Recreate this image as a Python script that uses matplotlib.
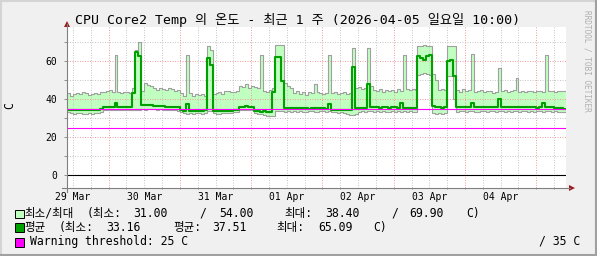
import numpy as np
import matplotlib
matplotlib.use('Agg')
import matplotlib.pyplot as plt
from matplotlib.patches import Rectangle, Polygon
from matplotlib.lines import Line2D

W, H = 597, 256

# ---------------- data (hourly, starting 2026-03-29 10:00) ----------------
max_vals = [
    43.5, 41.8, 42.6, 43.5, 43.0, 44.0, 43.5, 42.5, 42.6, 43.5, 42.6, 43.9,
    44.0, 44.4, 44.8, 44.0, 63.2, 43.9, 43.5, 44.0, 43.9, 43.5, 46.0, 66.0,
    69.9, 44.4, 48.7, 47.5, 47.0, 46.1, 45.0, 46.0, 45.5, 44.8, 46.0, 45.3,
    44.5, 45.0, 43.5, 42.0, 63.5, 43.5, 42.0, 43.0, 42.5, 43.0, 42.0, 67.9,
    66.0, 43.0, 43.5, 44.0, 42.8, 44.4, 44.4, 43.9, 44.0, 44.5, 47.0, 46.5,
    47.9, 46.1, 47.0, 46.5, 46.0, 63.5, 44.4, 44.0, 45.0, 46.0, 68.4, 68.4,
    68.4, 48.7, 47.0, 46.0, 43.5, 44.5, 43.0, 44.0, 42.5, 44.0, 43.5, 47.9,
    44.0, 43.5, 43.0, 43.5, 63.5, 43.5, 44.0, 43.0, 43.5, 44.0, 43.0, 43.5,
    67.0, 46.0, 46.5, 45.5, 46.0, 67.0, 47.0, 45.0, 44.5, 45.3, 44.0, 45.0,
    44.5, 45.0, 44.0, 45.3, 44.5, 63.5, 45.3, 45.0, 45.5, 45.0, 67.9, 67.9,
    68.8, 67.9, 67.9, 53.1, 50.0, 45.0, 45.5, 45.0, 67.9, 67.9, 67.9, 45.0,
    44.0, 45.3, 44.5, 45.0, 63.9, 44.0, 44.4, 45.0, 44.0, 44.5, 44.4, 43.5,
    44.0, 56.6, 44.4, 45.0, 44.0, 44.5, 45.0, 51.3, 44.0, 44.4, 44.0, 44.5,
    44.4, 44.0, 44.5, 44.4, 44.0, 63.2, 44.4, 44.4, 44.0, 44.4, 44.4, 44.4,
]
min_vals = [
    33.5, 33.0, 32.5, 33.0, 33.0, 32.5, 32.5, 33.0, 32.5, 33.0, 33.0, 33.5,
    34.5, 34.5, 34.3, 34.5, 34.3, 34.5, 34.3, 34.5, 34.3, 34.5, 34.3, 34.5,
    34.5, 34.8, 34.5, 34.8, 35.0, 34.8, 34.5, 34.8, 34.5, 34.5, 34.3, 34.5,
    34.3, 34.0, 33.5, 33.0, 32.5, 33.0, 32.5, 33.0, 32.8, 32.5, 33.0, 34.0,
    34.0, 33.0, 32.5, 32.5, 33.0, 32.8, 33.0, 33.0, 33.2, 33.5, 34.3, 34.3,
    34.3, 34.3, 34.3, 33.0, 32.5, 32.5, 32.0, 31.0, 31.3, 31.3, 34.0, 34.0,
    34.0, 33.5, 33.8, 33.5, 34.0, 33.5, 33.8, 33.5, 33.5, 34.0, 33.8, 33.5,
    33.5, 33.8, 34.0, 33.5, 33.8, 33.5, 33.5, 33.0, 33.5, 33.0, 32.5, 32.0,
    32.0, 32.2, 33.5, 33.8, 33.5, 34.0, 33.8, 33.5, 34.0, 33.5, 33.8, 33.5,
    33.5, 34.0, 33.5, 33.8, 33.5, 34.0, 33.5, 33.8, 33.5, 33.5, 53.0, 53.5,
    54.0, 53.5, 53.0, 33.0, 32.5, 33.0, 32.5, 33.0, 52.0, 52.5, 40.0, 33.5,
    33.8, 34.0, 33.5, 33.8, 34.0, 33.5, 33.5, 33.8, 34.0, 33.5, 33.8, 34.0,
    33.5, 33.8, 34.0, 33.5, 33.8, 33.5, 34.0, 33.8, 33.5, 34.0, 33.8, 33.5,
    34.0, 33.5, 33.8, 34.0, 33.5, 33.8, 34.0, 33.5, 33.8, 33.5, 33.5, 33.5,
]
avg_vals = [
    34.5, 34.3, 34.5, 34.5, 34.3, 34.3, 34.5, 34.5, 34.3, 34.5, 34.5, 35.0,
    35.7, 36.0, 36.0, 36.0, 38.3, 36.0, 36.0, 35.8, 36.0, 36.0, 43.5, 65.09,
    63.0, 37.0, 37.0, 36.8, 37.0, 36.5, 36.5, 36.3, 36.3, 36.0, 36.0, 36.0,
    35.8, 36.0, 34.5, 34.0, 37.4, 34.0, 34.0, 33.8, 34.0, 34.0, 34.5, 61.8,
    58.0, 34.0, 34.0, 33.8, 34.0, 34.0, 34.0, 34.0, 34.2, 34.5, 36.0, 36.0,
    36.3, 36.0, 36.0, 34.0, 34.0, 33.5, 34.0, 33.5, 33.16, 44.0, 62.0, 62.1,
    49.6, 35.5, 35.3, 35.3, 35.5, 35.3, 35.3, 35.5, 35.3, 35.0, 35.3, 35.3,
    35.5, 35.3, 35.3, 35.0, 37.8, 34.6, 34.5, 34.6, 34.3, 34.5, 34.5, 34.3,
    56.9, 35.3, 35.3, 35.5, 35.3, 48.2, 36.0, 35.7, 35.7, 35.5, 35.7, 35.7,
    35.5, 35.7, 35.7, 35.5, 38.3, 35.3, 35.3, 35.5, 35.3, 35.3, 62.7, 61.5,
    60.9, 62.5, 63.2, 36.5, 35.7, 35.7, 35.5, 35.7, 60.0, 60.5, 52.2, 35.7,
    35.7, 36.0, 35.7, 35.7, 38.3, 35.7, 36.0, 35.7, 35.7, 36.0, 35.7, 35.7,
    36.0, 40.0, 36.0, 36.0, 35.7, 36.0, 36.0, 35.7, 36.0, 35.7, 35.7, 36.0,
    35.7, 35.7, 35.5, 35.7, 38.3, 36.0, 35.7, 35.7, 35.5, 35.5, 35.3, 34.8,
]
warn_level = 25
crit_level = 35
zero_level = 0
day_labels = ['29 Mar', '30 Mar', '31 Mar', '01 Apr', '02 Apr', '03 Apr', '04 Apr']
label_hours = [2, 26, 50, 74, 98, 122, 146]          # noon of each day
midnight_hours = [14, 38, 62, 86, 110, 134, 158]
y_major = [0, 20, 40, 60]
y_minor = [10, 30, 50, 70]

title = 'CPU Core2 Temp 의 온도 - 최근 1 주 (2026-04-05 일요일 10:00)'

MONO = ['DejaVu Sans Mono', 'Noto Sans CJK KR']


def F(x, y):
    return (x / W, 1 - y / H)


fig = plt.figure(figsize=(W / 100, H / 100), dpi=100, facecolor='#f0f0f0')

# frame shading
fig.add_artist(Line2D([0, 1], [1 - 1 / H, 1 - 1 / H], transform=fig.transFigure, color='#d4d4d4', lw=1.5))
fig.add_artist(Line2D([1 / W, 1 / W], [0, 1], transform=fig.transFigure, color='#d4d4d4', lw=1.5))
fig.add_artist(Line2D([0, 1], [1 / H, 1 / H], transform=fig.transFigure, color='#a0a0a0', lw=1.5))
fig.add_artist(Line2D([1 - 1 / W, 1 - 1 / W], [0, 1], transform=fig.transFigure, color='#a0a0a0', lw=1.5))

x0, x1, y0, y1 = 67, 566, 27, 188
ax = fig.add_axes([x0 / W, 1 - y1 / H, (x1 - x0) / W, (y1 - y0) / H])
ax.set_facecolor('white')

n = len(max_vals)
hours = np.arange(n + 1)
mx = np.append(max_vals, max_vals[-1])
mn = np.append(min_vals, min_vals[-1])
av = np.append(avg_vals, avg_vals[-1])

ax.fill_between(hours, mn, mx, step='post', color='#c0ffc0', lw=0, zorder=1)

# grid (drawn above the area like rrdtool)
for v in y_minor:
    ax.axhline(v, color='#c8c8c8', lw=0.72, dashes=(1, 1.5), zorder=2)
for v in y_major:
    ax.axhline(v, color='#f0a0a0', lw=0.72, dashes=(1, 1.5), zorder=2)
for h in range(2, n + 1, 6):
    if h in midnight_hours:
        ax.axvline(h, color='#f0a0a0', lw=0.72, dashes=(1, 1.5), zorder=2)
    else:
        ax.axvline(h, color='#c8c8c8', lw=0.72, dashes=(1, 1.5), zorder=2)

ax.step(hours, mx, where='post', color='#a0a0a0', lw=0.8, zorder=3)
ax.step(hours, mn, where='post', color='#a0a0a0', lw=0.8, zorder=3)
ax.step(hours, av, where='post', color='#00a000', lw=1.5, zorder=4)

ax.axhline(zero_level, color='black', lw=0.8, zorder=5)
ax.axhline(warn_level, color='#ff00ff', lw=0.8, zorder=5)
ax.axhline(crit_level, color='#ff00ff', lw=0.8, zorder=5)

ax.set_xlim(0, n)
ax.set_ylim(-6.6, 78)
for s in ax.spines.values():
    s.set_visible(False)

ax.set_xticks(label_hours)
ax.set_xticklabels(day_labels, fontsize=7, family=MONO)
ax.set_xticks(list(range(2, n + 1, 6)), minor=True)
ax.tick_params(axis='x', which='major', length=0, pad=3)
ax.tick_params(axis='x', which='minor', length=2, width=0.6, color='#808080', direction='inout')
ax.set_yticks(y_major)
ax.set_yticklabels([str(v) for v in y_major], fontsize=7, family=MONO)
ax.set_yticks(y_minor, minor=True)
ax.tick_params(axis='y', which='both', length=2.5, width=0.6, color='#808080', pad=4.5)

# axis lines and arrows
fig.add_artist(Line2D([F(67, 0)[0]] * 2, [F(0, 192)[1], F(0, 24)[1]], transform=fig.transFigure, color='#808080', lw=0.8))
fig.add_artist(Line2D([F(62, 0)[0], F(570, 0)[0]], [F(0, 188)[1]] * 2, transform=fig.transFigure, color='#808080', lw=0.8))
arrow_col = '#9b1b1b'
fig.add_artist(Polygon([F(64, 27), F(70, 27), F(67, 21)], closed=True, transform=fig.transFigure, color=arrow_col, lw=0))
fig.add_artist(Polygon([F(569, 185), F(569, 191), F(575, 188)], closed=True, transform=fig.transFigure, color=arrow_col, lw=0))

# title
fig.text(*F(298, 24), title, ha='center', va='baseline', fontsize=9.5, family=MONO)
# y label
fig.text(*F(10, 106), 'C', ha='center', va='center', rotation=90, fontsize=8.3, family=MONO)
# watermark
fig.text(*F(587, 61), 'RRDTOOL / TOBI OETIKER', ha='center', va='center', rotation=270,
         fontsize=5.6, family=MONO, color='#b0b0b0')

# legend
box_cols = ['#c0ffc0', '#00a000', '#ff00ff']
box_tops = [209.5, 223, 238]
for col, top in zip(box_cols, box_tops):
    fig.add_artist(Rectangle(F(15, top + 8.5), 8.5 / W, 8.5 / H, transform=fig.transFigure,
                             facecolor=col, edgecolor='black', lw=0.7))

LF = 8.3
row1 = [(24.5, '최소/최대'), (86.5, '(최소:'), (133, '31.00'), (199.5, '/'), (219, '54.00'),
        (284.5, '최대:'), (325, '38.40'), (391, '/'), (409.5, '69.90'), (466.5, 'C)')]
row2 = [(24.5, '평균'), (59, '(최소:'), (106.5, '33.16'), (173.5, '평균:'), (212, '37.51'),
        (276.5, '최대:'), (318, '65.09'), (373.5, 'C)')]
for xx, t in row1:
    fig.text(*F(xx, 217), t, ha='left', va='baseline', fontsize=LF, family=MONO)
for xx, t in row2:
    fig.text(*F(xx, 231), t, ha='left', va='baseline', fontsize=LF, family=MONO)
fig.text(*F(30, 245), 'Warning threshold: 25 C', ha='left', va='baseline', fontsize=LF, family=MONO)
fig.text(*F(580, 245), '/ 35 C', ha='right', va='baseline', fontsize=LF, family=MONO)

fig.savefig('out.png', dpi=100, facecolor=fig.get_facecolor())
